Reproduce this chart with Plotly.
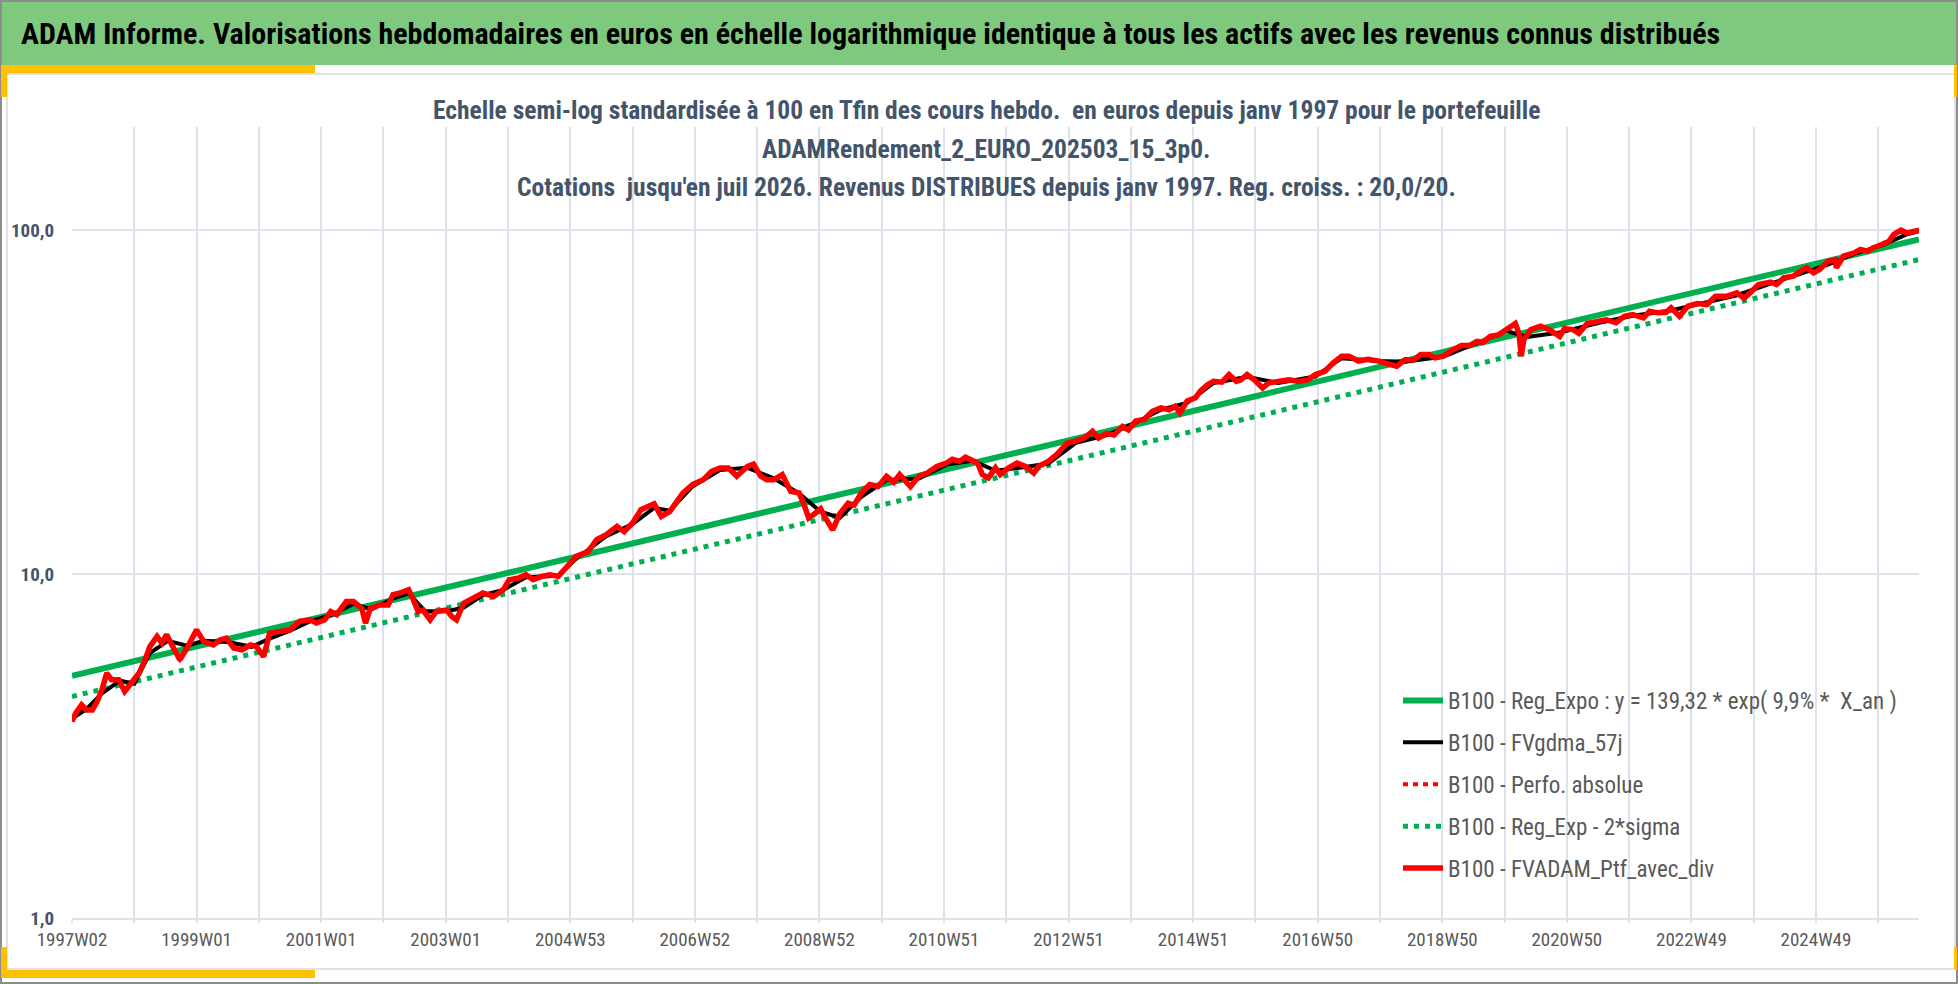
import plotly.graph_objects as go

# week index (0 = 1997W02) and values, base 100 at the end
weeks_ptf = [0, 3, 8, 12, 17, 21, 25, 29, 33, 39, 44, 50, 56, 61, 65, 71, 75, 79, 85, 90, 96,
             104, 110, 118, 124, 129, 135, 142, 149, 154, 160, 165, 174, 182, 190, 199, 204,
             211, 216, 221, 229, 235, 242, 245, 249, 257, 264, 268, 274, 281, 285, 289, 293,
             299, 304, 313, 317, 321, 327, 335, 343, 352, 360, 365, 373, 379, 385, 392, 399,
             406, 413, 421, 431, 438, 446, 455, 461, 468, 475, 481, 486, 492, 499, 504, 510,
             518, 527, 534, 541, 548, 555, 564, 569, 575, 580, 586, 593, 600, 607, 611, 615,
             620, 625, 629, 635, 641, 648, 653, 659, 666, 673, 680, 686, 691, 700, 707, 714,
             722, 730, 735, 741, 746, 752, 756, 760, 765, 771, 775, 782, 789, 796, 803, 807,
             815, 822, 831, 838, 845, 852, 857, 864, 870, 877, 882, 888, 895, 902, 909, 916,
             921, 925, 931, 938, 942, 948, 953, 960, 966, 972, 976, 981, 987, 994, 999, 1007,
             1016, 1024, 1032, 1038, 1046, 1053, 1060, 1066, 1074, 1082, 1091, 1100, 1106,
             1113, 1120, 1126, 1133, 1138, 1145, 1153, 1160, 1167, 1173, 1178, 1184, 1191,
             1198, 1205, 1208, 1210, 1212, 1218, 1226, 1233, 1242, 1246, 1253, 1258, 1265,
             1274, 1281, 1289, 1296, 1303, 1312, 1317, 1324, 1331, 1335, 1342, 1349, 1357,
             1365, 1372, 1382, 1390, 1396, 1401, 1408, 1418, 1423, 1429, 1437, 1441, 1448,
             1454, 1459, 1466, 1472, 1473, 1479, 1488, 1493, 1499, 1504, 1511, 1517, 1521,
             1527, 1532, 1538, 1542]
vals_ptf = [3.73, 3.94, 4.17, 4.03, 4.03, 4.26, 4.61, 5.16, 4.93, 4.93, 4.56, 4.82, 5.16, 5.64,
            6.16, 6.59, 6.31, 6.67, 6.03, 5.64, 6.10, 6.89, 6.37, 6.23, 6.45, 6.52, 6.10, 6.03,
            6.23, 6.16, 5.76, 6.74, 6.82, 6.89, 7.29, 7.37, 7.21, 7.37, 7.79, 7.63, 8.33, 8.33,
            7.96, 7.21, 7.96, 8.14, 8.14, 8.72, 8.82, 9.01, 8.42, 7.79, 7.87, 7.37, 7.79, 7.87,
            7.54, 7.37, 8.24, 8.53, 8.82, 8.62, 9.01, 9.64, 9.75, 9.97, 9.64, 9.86, 9.97, 9.86,
            10.54, 11.27, 11.65, 12.6, 13.03, 13.78, 13.3, 14.1, 15.4, 15.75, 16.04, 14.73,
            15.2, 16.1, 17.23, 18.23, 18.84, 19.92, 20.38, 20.38, 19.27, 20.6, 20.9, 19.27,
            18.84, 18.84, 19.5, 17.42, 17.23, 16.0, 14.58, 15.0, 15.5, 14.58, 13.47, 15.0,
            16.1, 15.9, 17.23, 18.23, 18.0, 19.27, 18.5, 19.5, 18.0, 19.27, 19.7, 20.6, 21.07,
            21.6, 21.3, 21.9, 21.5, 21.07, 19.5, 19.06, 20.4, 19.5, 20.4, 21.07, 20.6, 19.7,
            20.6, 21.3, 22.3, 24.1, 24.4, 24.9, 26.05, 24.9, 25.7, 25.4, 26.9, 26.3, 27.9,
            28.2, 29.8, 30.5, 30.1, 30.8, 29.5, 31.9, 32.6, 34.1, 35.6, 36.4, 36.2, 38.1, 36.4,
            36.8, 38.1, 36.8, 34.8, 36.0, 36.4, 36.8, 36.4, 36.8, 38.1, 38.95, 41.2, 43.1, 43.1,
            41.7, 42.2, 41.7, 40.8, 40.3, 42.1, 42.1, 43.55, 43.55, 42.6, 43.1, 45.0, 46.3,
            46.3, 47.6, 47.3, 49.2, 49.7, 51.5, 53.6, 50.2, 43.1, 48.1, 51.5, 52.7, 51.5, 49.2,
            51.8, 51.5, 50.2, 53.6, 54.4, 55.0, 53.9, 56.3, 56.9, 55.7, 58.2, 57.6, 57.8, 59.6,
            56.3, 60.2, 61.3, 60.9, 64.4, 64.4, 65.9, 63.5, 65.9, 69.6, 70.8, 69.6, 72.8, 73.6,
            75.3, 77.9, 75.3, 77.0, 81.4, 82.3, 77.9, 84.2, 86.1, 88.1, 87.1, 89.1, 91.0, 93.1,
            97.4, 100.2, 98.3, 99.5, 100.2]

# moving average (black), read coarser
weeks_ma = [0, 12, 25, 40, 52, 65, 80, 96, 110, 130, 150, 165, 182, 199, 216, 235, 250, 268,
            281, 295, 313, 327, 343, 360, 379, 406, 421, 446, 468, 486, 499, 518, 541, 564,
            586, 607, 625, 641, 659, 680, 707, 731, 752, 771, 796, 815, 838, 864, 888, 909,
            931, 953, 981, 1007, 1038, 1060, 1091, 1113, 1145, 1173, 1198, 1215, 1242, 1274,
            1303, 1335, 1357, 1390, 1418, 1441, 1466, 1488, 1511, 1532, 1542]
vals_ma = [3.8, 4.05, 4.5, 4.9, 4.8, 5.9, 6.4, 6.2, 6.4, 6.35, 6.15, 6.5, 6.85, 7.3, 7.6, 8.2,
           7.9, 8.5, 8.8, 7.8, 7.8, 8.0, 8.7, 9.0, 9.8, 9.9, 11.1, 12.9, 14.0, 15.6, 15.3, 18.0,
           20.1, 20.4, 19.0, 17.2, 15.2, 14.6, 16.8, 18.8, 19.0, 20.9, 21.4, 20.0, 20.5, 21.0,
           24.1, 25.4, 27.6, 30.1, 31.5, 36.0, 37.5, 36.0, 37.6, 42.5, 41.7, 41.5, 43.0, 47.2,
           51.0, 49.0, 50.5, 53.8, 56.5, 58.5, 60.8, 64.8, 70.0, 74.5, 79.5, 85.5, 90.5, 97.5,
           99.5]

# regression lines (ends)
weeks_reg = [0, 1542]
vals_reg = [5.06, 94.2]
vals_reg_2sigma = [4.41, 82.3]

tick_labels = ["1997W02", "1999W01", "2001W01", "2003W01", "2004W53", "2006W52", "2008W52",
               "2010W51", "2012W51", "2014W51", "2016W50", "2018W50", "2020W50", "2022W49",
               "2024W49"]
n_weeks = 1542

W, H = 1958, 984
L, R, T, B = 72, 1919, 127, 918  # plot area in pixels

def px(x):
    return (x - L) / (R - L)

def py(y):
    return (B - y) / (B - T)

GREEN = "#00B050"
FONT = "Roboto Condensed, DejaVu Sans Condensed, sans-serif"

fig = go.Figure()
fig.add_trace(go.Scatter(x=weeks_reg, y=vals_reg, mode="lines", legendrank=1,
                         name="B100 - Reg_Expo : y = 139,32 * exp( 9,9% *  X_an )",
                         line=dict(color=GREEN, width=6)))
fig.add_trace(go.Scatter(x=weeks_reg, y=vals_reg_2sigma, mode="lines", legendrank=4,
                         name="B100 - Reg_Exp - 2*sigma",
                         line=dict(color=GREEN, width=5, dash="5px,6px")))
fig.add_trace(go.Scatter(x=weeks_ma, y=vals_ma, mode="lines", legendrank=2,
                         name="B100 - FVgdma_57j", line=dict(color="black", width=4)))
fig.add_trace(go.Scatter(x=weeks_ptf, y=vals_ptf, mode="lines", legendrank=3,
                         name="B100 - Perfo. absolue",
                         line=dict(color="#FF0000", width=4, dash="5px,5px")))
fig.add_trace(go.Scatter(x=weeks_ptf, y=vals_ptf, mode="lines", legendrank=5,
                         name="B100 - FVADAM_Ptf_avec_div", line=dict(color="#FF0000", width=5.5)))

for i, tr in enumerate(fig.data):
    tr.legendgroup = "g%d" % i

grid_vals = list(range(0, n_weeks, 52))
grid_text = [tick_labels[i // 2] if i % 2 == 0 else "" for i in range(len(grid_vals))]

shapes = [
    # outer border
    dict(type="rect", xref="paper", yref="paper", x0=px(1), x1=px(W - 1), y0=py(1), y1=py(H - 1),
         line=dict(color="#8C8C8C", width=2), layer="above"),
    # chart area border
    dict(type="rect", xref="paper", yref="paper", x0=px(7), x1=px(1955), y0=py(74), y1=py(969),
         line=dict(color="#D9D9D9", width=1.5), layer="below"),
    # green header
    dict(type="rect", xref="paper", yref="paper", x0=px(1), x1=px(W - 1), y0=py(1), y1=py(65),
         fillcolor="#7FC97F", line=dict(width=0), layer="below"),
    # yellow corners
    dict(type="rect", xref="paper", yref="paper", x0=px(1), x1=px(315), y0=py(65), y1=py(73),
         fillcolor="#FFC000", line=dict(width=0)),
    dict(type="rect", xref="paper", yref="paper", x0=px(1), x1=px(7), y0=py(65), y1=py(97),
         fillcolor="#FFC000", line=dict(width=0)),
    dict(type="rect", xref="paper", yref="paper", x0=px(1), x1=px(315), y0=py(970), y1=py(978),
         fillcolor="#FFC000", line=dict(width=0)),
    dict(type="rect", xref="paper", yref="paper", x0=px(1), x1=px(7), y0=py(947), y1=py(978),
         fillcolor="#FFC000", line=dict(width=0)),
    dict(type="rect", xref="paper", yref="paper", x0=px(1954), x1=px(1957), y0=py(65), y1=py(97),
         fillcolor="#FFC000", line=dict(width=0)),
    dict(type="rect", xref="paper", yref="paper", x0=px(1954), x1=px(1957), y0=py(947), y1=py(970),
         fillcolor="#FFC000", line=dict(width=0)),
]

title_lines = [
    "Echelle semi-log standardisée à 100 en Tfin des cours hebdo.  en euros depuis janv 1997 pour le portefeuille",
    "ADAMRendement_2_EURO_202503_15_3p0.",
    "Cotations  jusqu'en juil 2026. Revenus DISTRIBUES depuis janv 1997. Reg. croiss. : 20,0/20.",
]
annotations = [
    dict(text="ADAM Informe. Valorisations hebdomadaires en euros en échelle logarithmique "
              "identique à tous les actifs avec les revenus connus distribués",
         xref="paper", yref="paper", x=px(19), y=py(33), xanchor="left", yanchor="middle",
         showarrow=False, font=dict(family=FONT, size=30, color="black", weight="bold")),
]
for text, yy in zip(title_lines, [110, 149, 187]):
    annotations.append(dict(text=text, xref="paper", yref="paper", x=px(986), y=py(yy),
                            xanchor="center", yanchor="middle", showarrow=False,
                            font=dict(family=FONT, size=25.5, color="#44546A", weight="bold")))

fig.update_layout(
    width=W, height=H,
    margin=dict(l=L, r=W - R, t=T, b=H - B),
    paper_bgcolor="white", plot_bgcolor="white",
    font=dict(family=FONT, color="#595959"),
    showlegend=True,
    legend=dict(x=px(1398), y=py(679), xanchor="left", yanchor="top",
                bgcolor="rgba(0,0,0,0)", font=dict(size=23, color="#595959"),
                traceorder="grouped", tracegroupgap=9, itemwidth=40),
    shapes=shapes,
    annotations=annotations,
    xaxis=dict(range=[0, n_weeks], tickmode="array", tickvals=grid_vals, ticktext=grid_text,
               showgrid=True, gridcolor="#DEE2EA", gridwidth=1.5, zeroline=False,
               ticks="outside", ticklen=3, tickcolor="#DEE2EA", tickwidth=1.5,
               showline=True, linecolor="#DEE2EA", linewidth=1.5,
               tickfont=dict(size=19, color="#595959"), ticklabelstandoff=0),
    yaxis=dict(type="log", range=[0, 2.30103], tickmode="array", tickvals=[1, 10, 100],
               ticktext=["1,0", "10,0", "100,0"], showgrid=True, gridcolor="#DEE2EA",
               gridwidth=1.5, zeroline=False, showline=False, ticks="",
               tickfont=dict(size=19, color="#44546A", weight="bold"), ticklabelstandoff=17),
)

fig.write_html("out.html", config={"displayModeBar": False},
               post_script="document.body.style.margin='0';document.body.style.overflow='hidden';")
